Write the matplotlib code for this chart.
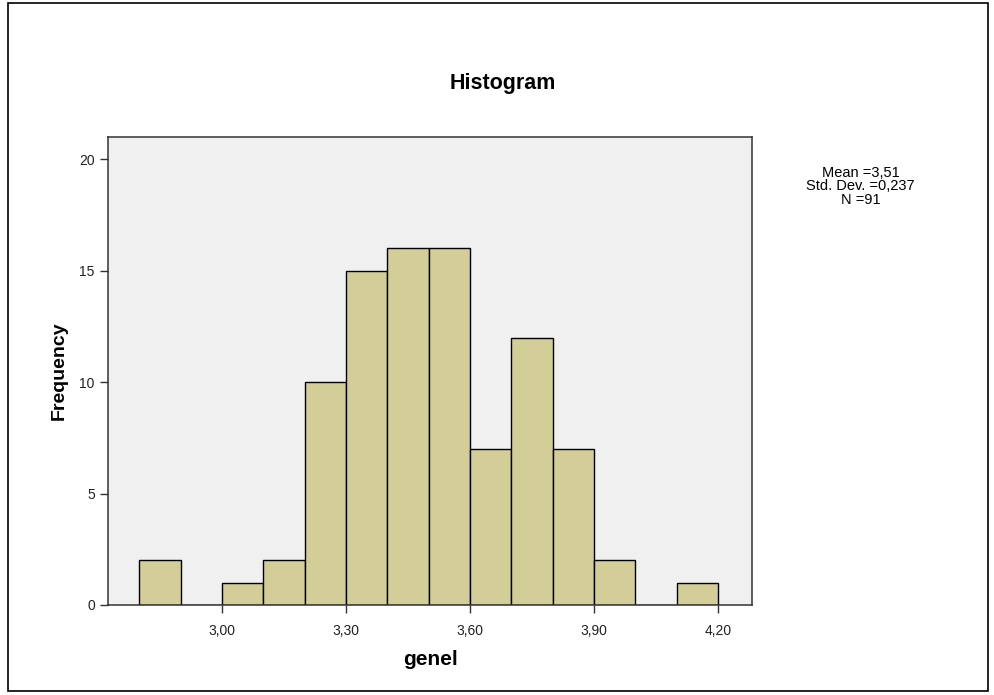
import matplotlib
matplotlib.use("Agg")
import matplotlib.pyplot as plt
from matplotlib.patches import Rectangle

# bin left edges and counts (bin width 0.1)
bin_edges = [2.8, 2.9, 3.0, 3.1, 3.2, 3.3, 3.4, 3.5, 3.6, 3.7, 3.8, 3.9, 4.0, 4.1, 4.2]
counts = [2, 0, 1, 2, 10, 15, 16, 16, 7, 12, 7, 2, 0, 1]
x_ticks = [3.0, 3.3, 3.6, 3.9, 4.2]
x_ticklabels = ["3,00", "3,30", "3,60", "3,90", "4,20"]
y_ticks = [0, 5, 10, 15, 20]
stats_text = "Mean =3,51\nStd. Dev. =0,237\nN =91"

plt.rcParams['font.family'] = ['Liberation Sans', 'DejaVu Sans']

fig = plt.figure(figsize=(9.95, 6.95), dpi=100)
fig.patches.append(Rectangle((0.008, 0.006), 0.985, 0.989, transform=fig.transFigure,
                             fill=False, edgecolor='black', linewidth=1.2))

ax = fig.add_axes([0.1085, 0.1295, 0.6475, 0.6735])
ax.set_facecolor('#F0F0F0')
ax.hist(bin_edges[:-1], bins=bin_edges, weights=counts,
        color='#D3CE98', edgecolor='black', linewidth=1.0)

ax.set_xlim(2.724, 4.283)
ax.set_ylim(0, 21)
ax.set_xticks(x_ticks)
ax.set_xticklabels(x_ticklabels)
ax.set_yticks(y_ticks)
ax.tick_params(axis='both', length=6, width=1, labelsize=10, color='#333333',
               labelcolor='#222222')
ax.tick_params(axis='x', pad=8)
for s in ax.spines.values():
    s.set_linewidth(1.1)
    s.set_color('#333333')

ax.set_xlabel("genel", fontsize=15, fontweight='bold', labelpad=8)
ax.set_ylabel("Frequency", fontsize=14, fontweight='bold', labelpad=8)
fig.text(0.505, 0.88, "Histogram", ha='center', va='center', fontsize=15.5, fontweight='bold')
fig.text(0.865, 0.732, stats_text, ha='center', va='center', fontsize=10.5, linespacing=0.95)

plt.savefig("out.png", dpi=100)
